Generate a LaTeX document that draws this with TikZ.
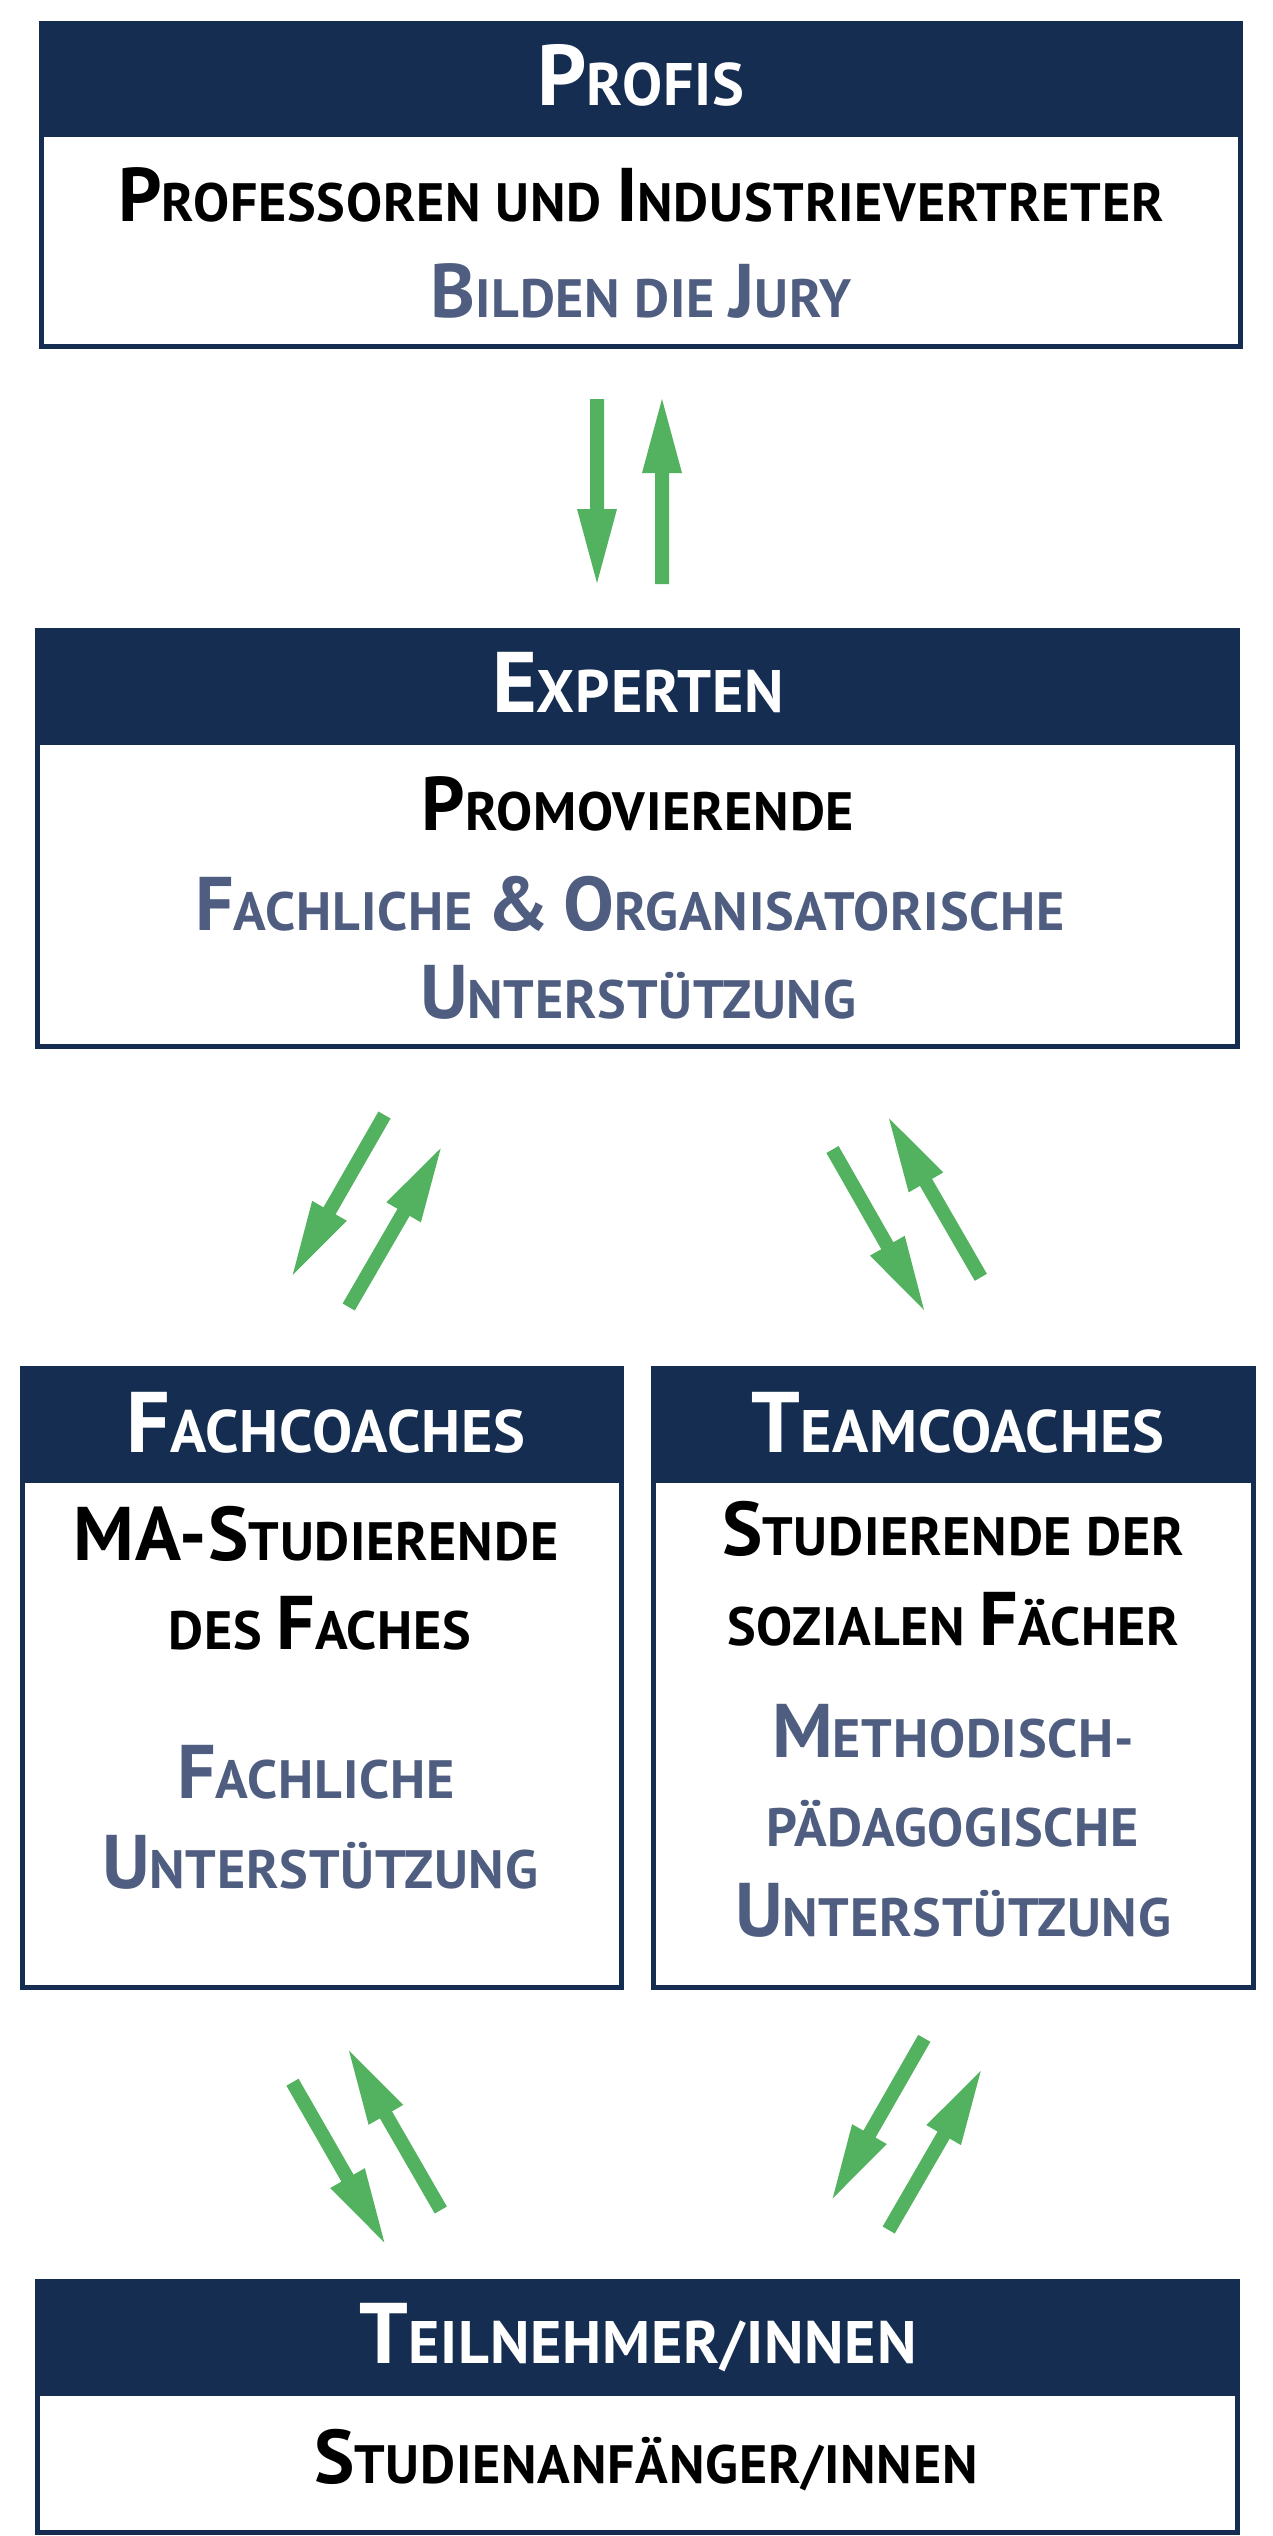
\documentclass[tikz,border=0pt]{standalone}
\usepackage{fontspec}
\setmainfont{PT Sans}[LetterSpace=1.5]
\usetikzlibrary{calc}
\definecolor{navy}{HTML}{152D50}
\definecolor{slate}{HTML}{4F5E80}
\definecolor{grn}{HTML}{53B25F}
\newcommand\Bb[1]{{\fontsize{76}{76}\selectfont #1}}
\newcommand\Hb[1]{{\fontsize{86}{86}\selectfont #1}}
% box: name, x1, y1, x2, y2, y-header
\newcommand\mkbox[6]{%
  \node[draw=navy, line width=5pt, fill=white, inner sep=0pt,
        minimum width={#4-#2-5}, minimum height={#5-#3-5}]
        (#1) at ({(#2+#4)/2},{(#3+#5)/2}) {};
  \node[fill=navy, inner sep=0pt, anchor=north west,
        minimum width={#4-#2}, minimum height={#6-#3}]
        (#1-h) at (#2,#3) {};
}
% green arrow: tail coordinate, tip coordinate
\newcommand\grarr[2]{%
  \coordinate (#2-b) at ($(#2)!74pt!(#1)$);
  \fill[grn] ($(#1)!7pt!90:(#2)$) -- ($(#2-b)!7pt!90:(#2)$)
    -- ($(#2-b)!20pt!90:(#2)$) -- (#2) -- ($(#2-b)!20pt!-90:(#2)$)
    -- ($(#2-b)!7pt!-90:(#2)$) -- ($(#1)!7pt!-90:(#2)$) -- cycle;
}
\tikzset{
  htext/.style={text=white, anchor=base, inner sep=0pt, font=\fontsize{60}{60}\selectfont\bfseries},
  btext/.style={text=black, anchor=base, inner sep=0pt, font=\fontsize{54}{54}\selectfont\bfseries},
  stext/.style={btext, text=slate},
}
\begin{document}
\begin{tikzpicture}[x=1pt,y=-1pt]
\useasboundingbox (0,0) rectangle (1273,2536);
\fill[white] (0,0) rectangle (1273,2536);

% Boxes
\mkbox{profis}{39}{21}{1243}{349}{137}
\mkbox{experten}{35}{628}{1240}{1049}{745}
\mkbox{fach}{20}{1366}{624}{1990}{1483}
\mkbox{team}{651}{1366}{1256}{1990}{1483}
\mkbox{teil}{35}{2279}{1240}{2535}{2396}

% Profis
\node[htext] (t-profis) at (641,105) {\Hb{P}ROFIS};
\node[btext] (t-prof1) at (641,221) {\Bb{P}ROFESSOREN UND \Bb{I}NDUSTRIEVERTRETER};
\node[stext] (t-prof2) at (641,317) {\Bb{B}ILDEN DIE \Bb{J}URY};

% Experten
\node[htext] (t-exp) at (638,712) {\Hb{E}XPERTEN};
\node[btext] (t-exp1) at (638,830) {\Bb{P}ROMOVIERENDE};
\node[stext] (t-exp2) at (630,930) {\Bb{F}ACHLICHE \Bb{\&} \Bb{O}RGANISATORISCHE};
\node[stext] (t-exp3) at (638,1018) {\Bb{U}NTERSTÜTZUNG};

% Fachcoaches
\node[htext] (t-fach) at (326,1452) {\Hb{F}ACHCOACHES};
\node[btext] (t-fach1) at (316,1560) {\Bb{MA-S}TUDIERENDE};
\node[btext] (t-fach2) at (320,1649) {DES \Bb{F}ACHES};
\node[stext] (t-fach3) at (316,1798) {\Bb{F}ACHLICHE};
\node[stext] (t-fach4) at (320,1888) {\Bb{U}NTERSTÜTZUNG};

% Teamcoaches
\node[htext] (t-team) at (958,1452) {\Hb{T}EAMCOACHES};
\node[btext] (t-team1) at (953,1555) {\Bb{S}TUDIERENDE DER};
\node[btext] (t-team2) at (953,1645) {SOZIALEN \Bb{F}ÄCHER};
\node[stext] (t-team3) at (953,1757) {\Bb{M}ETHODISCH-};
\node[stext] (t-team4) at (953,1846) {PÄDAGOGISCHE};
\node[stext] (t-team5) at (953,1936) {\Bb{U}NTERSTÜTZUNG};

% Teilnehmer
\node[htext] (t-teil) at (638,2363) {\Hb{T}EILNEHMER/INNEN};
\node[btext] (t-teil1) at (646,2483) {\Bb{S}TUDIENANFÄNGER/INNEN};

% Arrow coordinates
\coordinate (a1t) at (597,399);   \coordinate (a1p) at (597,583);
\coordinate (a2t) at (662,584);   \coordinate (a2p) at (662,399);
\coordinate (b1t) at (384.5,1115); \coordinate (b1p) at (292.7,1275);
\coordinate (b2t) at (348.7,1307); \coordinate (b2p) at (440.7,1148.3);
\coordinate (c1t) at (832.5,1149.5); \coordinate (c1p) at (924,1310);
\coordinate (c2t) at (980.8,1277.3); \coordinate (c2p) at (889,1118.3);
\coordinate (d1t) at (292.5,2082.2); \coordinate (d1p) at (384.3,2242.3);
\coordinate (d2t) at (440.8,2210);   \coordinate (d2p) at (349,2050.7);
\coordinate (e1t) at (924.3,2038.3); \coordinate (e1p) at (832.7,2198.3);
\coordinate (e2t) at (888.7,2230);   \coordinate (e2p) at (980.7,2071);

\grarr{a1t}{a1p}
\grarr{a2t}{a2p}
\grarr{b1t}{b1p}
\grarr{b2t}{b2p}
\grarr{c1t}{c1p}
\grarr{c2t}{c2p}
\grarr{d1t}{d1p}
\grarr{d2t}{d2p}
\grarr{e1t}{e1p}
\grarr{e2t}{e2p}
\end{tikzpicture}
\end{document}
